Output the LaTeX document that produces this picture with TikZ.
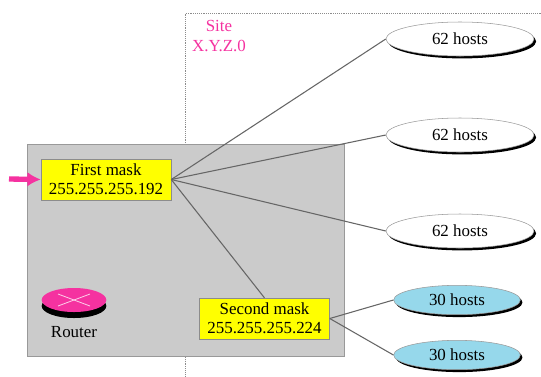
\documentclass[tikz,border=0pt]{standalone}
\usepackage{fontspec}
\setmainfont{Liberation Serif}
\usetikzlibrary{shapes.geometric, shadows, arrows.meta, calc}

\definecolor{boxgray}{RGB}{203,203,203}
\definecolor{maskyellow}{RGB}{255,255,0}
\definecolor{hostblue}{RGB}{150,216,235}
\definecolor{sitepink}{RGB}{245,50,160}

\tikzset{
    masklabel/.style={draw=black!45, fill=maskyellow, minimum width=97.5pt, minimum height=30.5pt,
        inner sep=0pt, align=center},
    hostnode/.style={shape=ellipse, draw=black!40, fill=white, inner sep=0pt,
        drop shadow={shadow xshift=1.6pt, shadow yshift=-1.8pt, fill=black, opacity=1}},
    bighost/.style={hostnode, minimum width=111pt, minimum height=25.5pt},
    smallhost/.style={hostnode, fill=hostblue, minimum width=95pt, minimum height=22pt},
    link/.style={draw=black!60, line width=0.8pt}
}

\begin{document}
\begin{tikzpicture}[x=0.75pt, y=-0.75pt, >=latex, font=\fontsize{12.7}{14.3}\selectfont]

    \useasboundingbox (0,0) rectangle (541,376);

    % site border
    \coordinate (sitecorner) at (185,13);
    \coordinate (siteright) at (541,13);
    \coordinate (sitebottom) at (185,376);
    \draw[black!45, densely dotted] (siteright) -- (sitecorner) -- (sitebottom);
    \node[text=sitepink, align=center] at (219,36) (sitelabel) {Site\\X.Y.Z.0};

    \node[draw=black!40, fill=boxgray, minimum width=237.75pt, minimum height=159pt, inner sep=0pt]
        at (185.5,250) (routerbox) {};

    \node[masklabel] at (106,179.5) (firstmask) {First mask\\255.255.255.192};
    \node[masklabel] at (264.5,318.5) (secondmask) {Second mask\\255.255.255.224};

    \node[bighost] at (460,39) (hostA) {62 hosts};
    \node[bighost] at (460,135) (hostB) {62 hosts};
    \node[bighost] at (460,231) (hostC) {62 hosts};
    \node[smallhost] at (457,300) (hostD) {30 hosts};
    \node[smallhost] at (457,355) (hostE) {30 hosts};

    \foreach \h in {hostA, hostB, hostC} {
        \draw[link] (firstmask.east) -- (\h.west);
    };
    \draw[link] (firstmask.east) -- (secondmask.north);
    \foreach \h in {hostD, hostE} {
        \draw[link] (secondmask.east) -- (\h.west);
    };

    % arrow into the first mask
    \coordinate (entry) at (9,179);
    \draw[draw=sitepink, line width=4pt, -{Latex[length=10pt, width=11pt]}] (entry) -- (firstmask.west);

    % router
    \node[shape=ellipse, fill=black, minimum width=48.5pt, minimum height=18pt, inner sep=0pt]
        at (74,306) (routerbase) {};
    \node[shape=ellipse, fill=sitepink, minimum width=48.5pt, minimum height=18pt, inner sep=0pt]
        at (74,300) (routertop) {};
    \draw[white!75!sitepink, line width=0.6pt] ($(routertop)+(-16,-6)$) -- ($(routertop)+(16,6)$);
    \draw[white!75!sitepink, line width=0.6pt] ($(routertop)+(-16,6)$) -- ($(routertop)+(16,-6)$);
    \node at (74,332) (routerlabel) {Router};

\end{tikzpicture}
\end{document}
